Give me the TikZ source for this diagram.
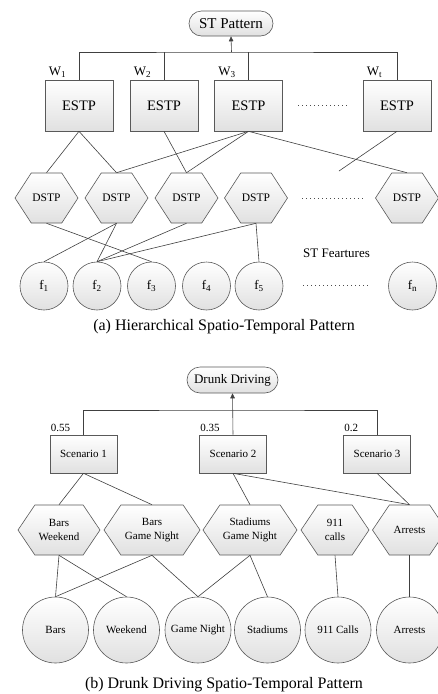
\documentclass[tikz,border=0pt]{standalone}
\usepackage{fontspec}
\setmainfont{Liberation Serif}
\usetikzlibrary{calc}
\usetikzlibrary{positioning}
\usetikzlibrary{shapes.symbols}
\usetikzlibrary{arrows.meta}
\tikzset{
  shadebox/.style={draw=black!65, line width=0.6pt, top color=white, bottom color=black!12},
  link/.style={draw=black!75, line width=0.6pt},
  uplink/.style={link, -{Triangle[length=5pt, width=4.5pt]}},
  dots/.style={draw=black!70, line width=0.7pt, dash pattern=on 0.7pt off 3.3pt},
  pattern/.style={shadebox, rounded corners=12.5pt, minimum width=84pt, minimum height=25pt, font=\fontsize{15}{17}\selectfont},
  estp/.style={shadebox, rectangle, minimum width=68pt, minimum height=51pt, font=\fontsize{14.5}{16}\selectfont},
  dstp/.style={shadebox, signal, signal to=west and east, signal pointer angle=114, minimum width=63pt, minimum height=50pt, inner sep=1pt, font=\fontsize{11.5}{13}\selectfont},
  feat/.style={shadebox, circle, minimum size=48pt, inner sep=0pt, font=\fontsize{13}{15}\selectfont},
  weight/.style={anchor=south west, inner sep=2pt, xshift=2pt, font=\fontsize{13}{15}\selectfont},
  scenario/.style={shadebox, rectangle, minimum width=67pt, minimum height=38pt, font=\fontsize{11}{13}\selectfont},
  score/.style={anchor=south west, inner sep=3pt, xshift=-2pt, font=\fontsize{11}{13}\selectfont},
  cell/.style={shadebox, signal, signal to=west and east, signal pointer angle=112, minimum height=50pt, inner sep=1pt, align=center, font=\fontsize{11}{13.5}\selectfont},
  place/.style={shadebox, circle, minimum size=66pt, inner sep=0pt, font=\fontsize{11}{13}\selectfont},
  note/.style={font=\fontsize{13}{15}\selectfont},
  caption/.style={font=\fontsize{16}{18}\selectfont}
}
\begin{document}
\begin{tikzpicture}[x=1pt, y=-1pt]
        \useasboundingbox (0,0) rectangle (438,694);
        % (a) hierarchical pattern
        \node[pattern] (st) at (231,23.5) {ST Pattern};
        \foreach \i/\x/\w in {1/79/1, 2/164/2, 3/248.5/3, 4/397/t} {
          \node[estp] (e\i) at (\x,105.5) {ESTP};
          \node[weight] at (e\i.north west) {W\textsubscript{\w}};
        }
        \foreach \i/\x in {1/46.5, 2/116.5, 3/186.5, 4/256, 5/407}
          \node[dstp] (d\i) at (\x,198) {DSTP};
        \foreach \i/\x in {1/44, 2/97, 3/151.5, 4/206.5, 5/259, n/412.5}
          \node[feat] (f\i) at (\x,286) {f\textsubscript{\i}};
        \coordinate (bara) at (231.5,52);
        \draw[link] (e1.north) |- (bara) -| (e4.north);
        \foreach \i in {2,3}
          \draw[link] (e\i.north) -- (e\i.north |- bara);
        \draw[uplink] (bara) -- (st.south);
        \foreach \a/\b in {e1/d1, e1/d2, e2/d3, e3/d2, e3/d3, e3/d5}
          \draw[link] (\a.south) -- (\b.north);
        \coordinate (loose) at (339,171);
        \draw[link] (e4.south) -- (loose);
        \foreach \a/\b in {d1/f3, d2/f1, d2/f2, d3/f2, d4/f2, d4/f5}
          \draw[link] (\a.south) -- (\b.north);
        \draw[dots] (298,105) -- (347,105);
        \draw[dots] (302,198) -- (365,198);
        \draw[dots] (303,285) -- (368,285);
        \node[note] (stf) at (336.5,253) {ST Feartures};
        \node[caption] (capa) at (224,327) {(a) Hierarchical Spatio-Temporal Pattern};
        % (b) drunk driving
        \node[pattern, minimum width=91pt, minimum height=26pt, rounded corners=13pt, font=\fontsize{13}{15}\selectfont] (drunk) at (232.5,380) {Drunk Driving};
        \foreach \i/\x/\w in {1/83.5/0.55, 2/233/0.35, 3/377/0.2} {
          \node[scenario] (s\i) at (\x,454) {Scenario \i};
          \node[score] at (s\i.north west) {\w};
        }
        \coordinate (barb) at (233,410);
        \draw[link] (s1.north) |- (barb) -| (s3.north);
        \draw[uplink] (s2.north) -- (drunk.south);
        \foreach \i/\x/\hw/\txt in {1/59/82/{Bars\\Weekend}, 2/152/96/{Bars\\Game Night}, 3/250/94/{Stadiums\\Game Night}, 4/335/68/{911\\calls}, 5/409.5/74/{Arrests}}
          \node[cell, minimum width=\hw pt] (h\i) at (\x,530) {\txt};
        \foreach \i/\x/\txt in {1/55.5/Bars, 2/126.5/Weekend, 3/198/Game Night, 4/267.5/Stadiums, 5/338/911 Calls, 6/409.5/Arrests}
          \node[place] (c\i) at (\x,630) {\txt};
        \foreach \a/\b in {s1/h1, s1/h2, s2/h3, s2/h5, s3/h5}
          \draw[link] (\a.south) -- (\b.north);
        \foreach \a/\b in {h1/c1, h1/c2, h2/c1, h2/c3, h3/c3, h3/c4, h4/c5, h5/c6}
          \draw[link] (\a.south) -- (\b.north);
        \node[caption] (capb) at (224,685) {(b) Drunk Driving Spatio-Temporal Pattern};
      \end{tikzpicture}
\end{document}
